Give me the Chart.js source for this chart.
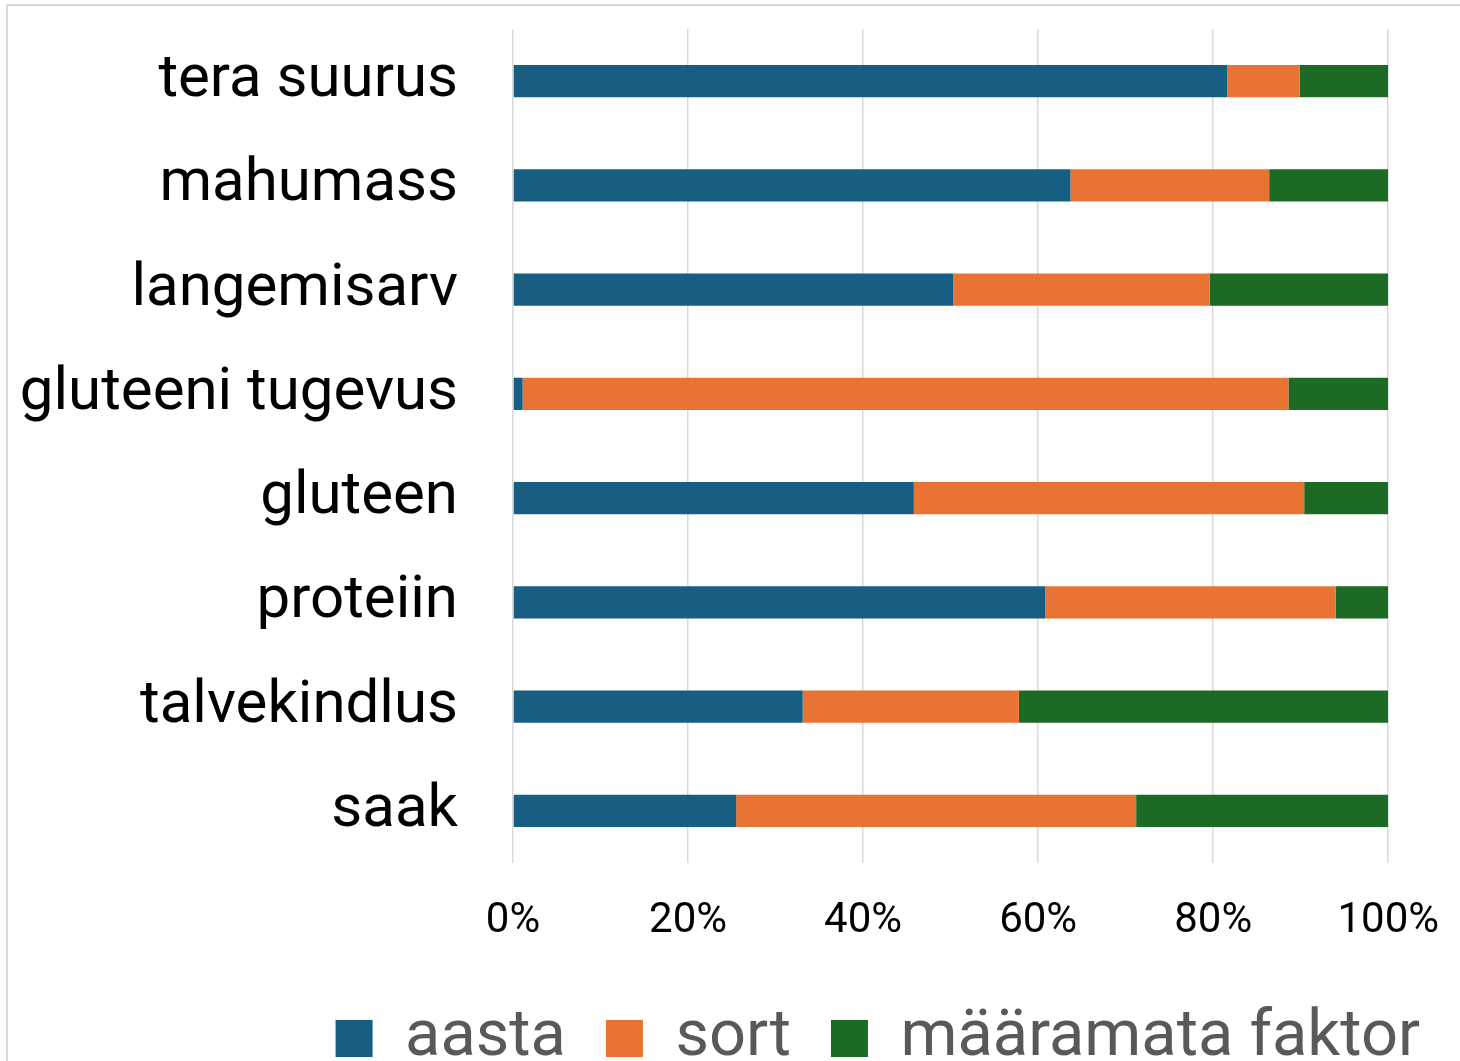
<!DOCTYPE html>
<html>
<head>
<meta charset="utf-8">
<script src="https://cdn.jsdelivr.net/npm/chart.js@4.4.0/dist/chart.umd.min.js"></script>
<style>
  html, body { margin: 0; padding: 0; background: #fff; overflow: hidden; width: 1460px; height: 1061px; }
  #frame { position: absolute; left: 6px; top: 4px; width: 1520px; height: 1120px; border: 2px solid #d9d9d9; }
  #chart { position: absolute; left: 0; top: -62px; }
</style>
</head>
<body>
<div id="frame"></div>
<canvas id="chart" width="1460" height="1143"></canvas>
<script>
const categories = ["tera suurus", "mahumass", "langemisarv", "gluteeni tugevus", "gluteen", "proteiin", "talvekindlus", "saak"];
const aasta = [81.6, 63.7, 50.3, 1.1, 45.8, 60.8, 33.1, 25.5];
const sort = [8.3, 22.7, 29.3, 87.5, 44.6, 33.2, 24.7, 45.7];
const maaramata = [10.1, 13.6, 20.4, 11.4, 9.6, 6.0, 42.2, 28.8];
const seriesNames = ["aasta", "sort", "määramata faktor"];
const seriesColors = ["#175f82", "#e87333", "#1b6b25"];

const ctx = document.getElementById("chart").getContext("2d");
const chart = new Chart(ctx, {
  type: "bar",
  data: {
    labels: categories,
    datasets: [aasta, sort, maaramata].map((vals, i) => ({
      label: seriesNames[i],
      data: vals,
      backgroundColor: seriesColors[i],
      borderWidth: 0,
      barPercentage: 0.31,
      categoryPercentage: 1,
    })),
  },
  options: {
    indexAxis: "y",
    responsive: false,
    animation: false,
    layout: { padding: { top: 29, right: 0, left: 0, bottom: 0 } },
    scales: {
      x: {
        stacked: true,
        min: 0,
        max: 100,
        ticks: {
          stepSize: 20,
          callback: (v) => v + "%",
          color: "#000",
          padding: 21,
          font: { family: "Roboto", size: 42 },
        },
        grid: { color: "#d9d9d9", lineWidth: 1.5, drawTicks: true, tickLength: 12, tickColor: "rgba(0,0,0,0)" },
        border: { display: false },
        afterFit: (scale) => { scale.height = 103; },
      },
      y: {
        stacked: true,
        ticks: {
          color: "#000",
          padding: 55,
          font: { family: "Roboto", size: 60 },
        },
        grid: { display: false, drawTicks: false },
        border: { display: false },
        afterFit: (scale) => { scale.width = 513; },
      },
    },
    plugins: {
      legend: {
        position: "bottom",
        align: "end",
        labels: {
          color: "#595959",
          boxWidth: 37,
          boxHeight: 37,
          padding: 40,
          font: { family: "Roboto", size: 65 },
        },
      },
      tooltip: { enabled: false },
    },
  },
});
</script>
</body>
</html>
